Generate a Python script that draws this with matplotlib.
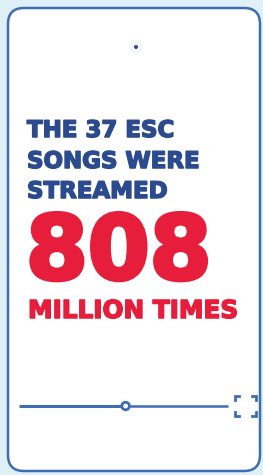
import matplotlib
matplotlib.use("Agg")
import matplotlib.pyplot as plt
import matplotlib.patheffects as pe
from matplotlib.patches import FancyBboxPatch, Circle

# ---- data ----
songs_count = 37
streams_millions = 808
headline_lines = ["THE %d ESC" % songs_count, "SONGS WERE", "STREAMED"]
big_number = str(streams_millions)
unit_line = "MILLION TIMES"
slider_progress = 0.51  # share of track played

BG = "#dff0f9"
BLUE = "#2b4b8e"
BORDER = "#3f6db4"
RED = "#e61e3c"
FONT = "DejaVu Sans"

W, H = 263, 475
fig = plt.figure(figsize=(W / 100, H / 100), dpi=100)
fig.patch.set_facecolor(BG)
ax = fig.add_axes([0, 0, 1, 1])
ax.set_xlim(0, W)
ax.set_ylim(H, 0)
ax.axis("off")

# phone body
phone = FancyBboxPatch((8, 8), 252, 463, boxstyle="round,pad=0,rounding_size=16",
                       facecolor="white", edgecolor=BORDER, linewidth=1.8, zorder=1)
ax.add_patch(phone)

# camera
ax.add_patch(Circle((136, 47), 7, facecolor="#f4f6f8", edgecolor="none", zorder=2))
ax.add_patch(Circle((136, 47), 2.0, facecolor=BLUE, edgecolor="none", zorder=3))


def heavy(color, w):
    return [pe.Stroke(linewidth=w, foreground=color), pe.Normal()]


ys = [137, 168, 198]
for txt, y in zip(headline_lines, ys):
    ax.text(27, y, txt, color=BLUE, fontsize=16.5, fontweight="bold", family=FONT,
            ha="left", va="baseline", zorder=4, path_effects=heavy(BLUE, 1.1))

ax.text(26, 279, big_number, color=RED, fontsize=64, fontweight="bold", family=FONT,
        ha="left", va="baseline", zorder=4, path_effects=heavy(RED, 3.0))
ax.text(28, 318, unit_line, color=RED, fontsize=17.8, fontweight="bold", family=FONT,
        ha="left", va="baseline", zorder=4, path_effects=heavy(RED, 1.1))

# slider
x0, x1, ys_ = 19, 228, 406
xc = x0 + slider_progress * (x1 - x0)
ax.plot([x0, xc], [ys_, ys_], color=BORDER, lw=2.2, solid_capstyle="butt", zorder=3)
ax.plot([xc, x1], [ys_, ys_], color=BORDER, lw=1.8, solid_capstyle="butt", zorder=3)
ax.add_patch(Circle((xc, ys_), 3.8, facecolor="white", edgecolor=BORDER, linewidth=2, zorder=5))

# fullscreen icon
bx0, bx1, by0, by1, L = 235, 256, 396, 416, 4
for cx, cy, sx, sy in [(bx0, by0, 1, 1), (bx1, by0, -1, 1), (bx0, by1, 1, -1), (bx1, by1, -1, -1)]:
    ax.plot([cx + sx * L, cx, cx], [cy, cy, cy + sy * L], color=BORDER, lw=2,
            solid_joinstyle="miter", zorder=3)

fig.savefig("out.png", dpi=100, facecolor=BG)
